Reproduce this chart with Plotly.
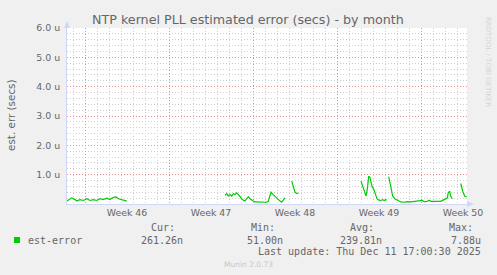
import plotly.graph_objects as go

# ---- data (days since left edge of graph, value in microseconds) ----
seg_days = [
    [0.0, 0.39, 0.67, 0.81, 1.08, 1.36, 1.64, 1.92, 2.19, 2.48, 2.75, 3.03, 3.31, 3.58, 3.86, 4.08, 4.28, 4.56, 4.98],
    [13.17, 13.31, 13.44, 13.58, 13.73, 13.86, 14.0, 14.14, 14.28, 14.42, 14.56, 14.69, 14.83, 14.98, 15.11, 15.25,
     15.39, 15.53, 15.67, 16.08, 16.64, 16.78, 16.92, 17.0, 17.19, 17.48, 17.75, 17.89, 18.03, 18.17],
    [18.73, 18.86, 19.0, 19.14, 19.28],
    [24.5, 24.63, 24.75, 24.92, 25.04, 25.14, 25.25, 25.42, 25.58, 25.71, 25.83, 26.0, 26.17, 26.29, 26.42, 26.56, 26.64],
    [26.81, 26.92, 27.03, 27.14, 27.31, 27.53, 27.81, 28.08, 28.36, 28.64, 28.92, 29.19, 29.48, 29.61, 29.75, 30.03,
     30.17, 30.31, 30.58, 30.86, 31.14, 31.42, 31.56, 31.69, 31.77, 31.89, 31.97, 32.11],
    [32.81, 32.89, 33.0, 33.14, 33.31],
]
seg_vals = [
    [0.10, 0.21, 0.15, 0.10, 0.15, 0.12, 0.18, 0.12, 0.15, 0.12, 0.18, 0.15, 0.20, 0.15, 0.23, 0.24, 0.18, 0.15, 0.10],
    [0.29, 0.36, 0.27, 0.32, 0.27, 0.35, 0.32, 0.38, 0.32, 0.24, 0.18, 0.13, 0.10, 0.18, 0.24, 0.18,
     0.13, 0.10, 0.07, 0.07, 0.06, 0.10, 0.27, 0.40, 0.32, 0.19, 0.10, 0.06, 0.15, 0.21],
    [0.78, 0.61, 0.40, 0.36, 0.36],
    [0.78, 0.60, 0.45, 0.27, 0.55, 0.95, 0.90, 0.60, 0.49, 0.30, 0.18, 0.13, 0.12, 0.15, 0.12, 0.15, 0.13],
    [0.93, 0.68, 0.41, 0.27, 0.18, 0.12, 0.07, 0.06, 0.08, 0.07, 0.08, 0.08, 0.09, 0.12, 0.08, 0.09,
     0.13, 0.09, 0.09, 0.08, 0.09, 0.15, 0.17, 0.20, 0.38, 0.44, 0.27, 0.18],
    [0.70, 0.55, 0.41, 0.27, 0.24],
]

week_bounds = [1.5, 8.5, 15.5, 22.5, 29.5]
week_mids = [5.0, 12.0, 19.0, 26.0, 33.0]
week_labels = ["Week 46", "Week 47", "Week 48", "Week 49", "Week 50"]
y_ticks = [0, 1, 2, 3, 4, 5, 6]
y_labels = ["", "1.0 u", "2.0 u", "3.0 u", "4.0 u", "5.0 u", "6.0 u"]

series_name = "est-error"
stat_heads = ["Cur:", "Min:", "Avg:", "Max:"]
stat_vals = ["261.26n", "51.00n", "239.81n", "7.88u"]
last_update = "Last update: Thu Dec 11 17:00:30 2025"

# ---- build line with gaps ----
xs, ys = [], []
for d, v in zip(seg_days, seg_vals):
    xs += d + [None]
    ys += v + [None]

W, H = 497, 275
ML, MR, MT, MB = 67, 30, 28, 71
PW, PH = W - ML - MR, H - MT - MB


def px(x):
    return (x - ML) / PW


def py(y):
    return (MT + PH - y) / PH


FONT = "DejaVu Sans"
MONO = "DejaVu Sans Mono"
TXT = "#666666"
GREEN = "#00CC00"
AXIS = "#CFD6F8"
MGRID = "#E89090"
GRID = "#D0D0D0"
DASH = "1px,2px"

fig = go.Figure()
fig.add_trace(go.Scatter(x=xs, y=ys, mode="lines", line=dict(color=GREEN, width=1.2),
                         connectgaps=False, showlegend=False, hoverinfo="skip"))
fig.add_trace(go.Scatter(x=[], y=[], xaxis="x2", showlegend=False))

fig.update_layout(
    width=W, height=H,
    margin=dict(l=ML, r=MR, t=MT, b=MB),
    paper_bgcolor="#F0F0F0", plot_bgcolor="#FFFFFF",
    showlegend=False,
    font=dict(family=FONT, size=9.4, color=TXT),
    xaxis=dict(range=[0, 400 / 12], tickmode="array", tickvals=week_mids, ticktext=week_labels,
               showgrid=False, zeroline=False, showline=True, linecolor=AXIS, linewidth=1,
               ticks="", ticklabelstandoff=0, tickfont=dict(family=FONT, size=9.4, color=TXT)),
    xaxis2=dict(range=[0, 400 / 12], overlaying="x", anchor="y", side="bottom",
                tickmode="array", tickvals=week_bounds, showticklabels=False,
                showgrid=True, gridcolor=MGRID, griddash=DASH, gridwidth=1,
                minor=dict(tickmode="linear", tick0=0.5, dtick=1, showgrid=True,
                           gridcolor=GRID, griddash=DASH, gridwidth=1, ticks=""),
                ticks="", zeroline=False, showline=False),
    yaxis=dict(range=[0, 6], tickmode="array", tickvals=y_ticks, ticktext=y_labels,
               showgrid=True, gridcolor=MGRID, griddash=DASH, gridwidth=1,
               minor=dict(tickmode="linear", tick0=0, dtick=0.2, showgrid=True,
                          gridcolor=GRID, griddash=DASH, gridwidth=1),
               zeroline=False, showline=True, linecolor=AXIS, linewidth=1,
               ticks="", ticklabelstandoff=4,
               tickfont=dict(family=FONT, size=9.4, color=TXT)),
)

fig.add_annotation(text="NTP kernel PLL estimated error (secs) - by month", xref="paper", yref="paper",
                   x=px(248), y=py(19), xanchor="center", yanchor="middle", showarrow=False,
                   font=dict(family=FONT, size=12.7, color=TXT))
fig.add_annotation(text="est. err (secs)", xref="paper", yref="paper",
                   x=px(11), y=py(115), xanchor="center", yanchor="middle", showarrow=False,
                   textangle=-90, font=dict(family=FONT, size=10.4, color=TXT))

# axis arrows
fig.add_shape(type="path", xref="paper", yref="paper",
              path=f"M {px(64)} {py(28)} L {px(70)} {py(28)} L {px(67)} {py(21)} Z",
              fillcolor=AXIS, line=dict(width=0))
fig.add_shape(type="path", xref="paper", yref="paper",
              path=f"M {px(467)} {py(201)} L {px(467)} {py(207)} L {px(474)} {py(204)} Z",
              fillcolor=AXIS, line=dict(width=0))

# legend
fig.add_shape(type="rect", xref="paper", yref="paper", x0=px(14), x1=px(20), y0=py(243), y1=py(237),
              fillcolor=GREEN, line=dict(width=0))
fig.add_annotation(text=series_name, xref="paper", yref="paper", x=px(26), y=py(240),
                   xanchor="left", yanchor="middle", showarrow=False,
                   font=dict(family=MONO, size=10, color=TXT))
head_x = [149, 249, 348, 447]
val_right = [184.5, 284.5, 383.5, 482.5]
for hx, vr, h, v in zip(head_x, val_right, stat_heads, stat_vals):
    fig.add_annotation(text=h, xref="paper", yref="paper", x=px(hx), y=py(228),
                       xanchor="left", yanchor="middle", showarrow=False,
                       font=dict(family=MONO, size=10, color=TXT))
    fig.add_annotation(text=v, xref="paper", yref="paper", x=px(vr), y=py(240),
                       xanchor="right", yanchor="middle", showarrow=False,
                       font=dict(family=MONO, size=10, color=TXT))
fig.add_annotation(text=last_update, xref="paper", yref="paper", x=px(482.5), y=py(251.5),
                   xanchor="right", yanchor="middle", showarrow=False,
                   font=dict(family=MONO, size=10, color=TXT))
fig.add_annotation(text="Munin 2.0.73", xref="paper", yref="paper", x=px(248), y=py(264),
                   xanchor="center", yanchor="middle", showarrow=False,
                   font=dict(family=FONT, size=7.5, color="#C8C8C8"))
fig.add_annotation(text="RRDTOOL / TOBI OETIKER", xref="paper", yref="paper", x=px(488), y=py(15),
                   xanchor="center", yanchor="top", showarrow=False, textangle=90,
                   font=dict(family=FONT, size=7, color="#D4D4D4"))

fig.write_html("out.html")
